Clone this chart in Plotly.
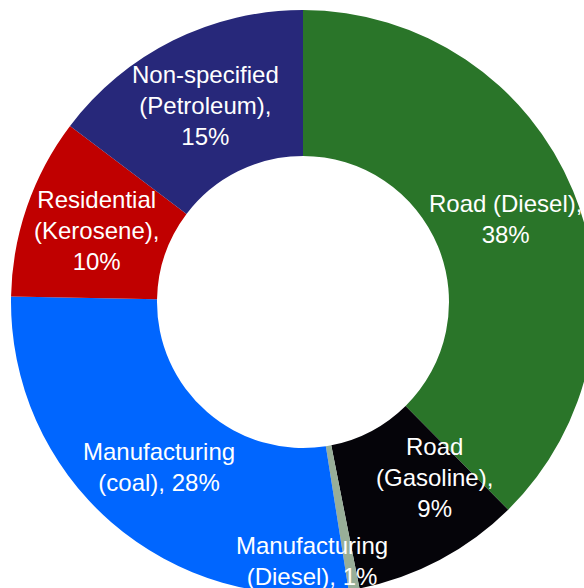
import math
import plotly.graph_objects as go

# shares of final energy use (%)
sectors = ["Road (Diesel)", "Road (Gasoline)", "Manufacturing (Diesel)",
           "Manufacturing (coal)", "Residential (Kerosene)", "Non-specified (Petroleum)"]
shares = [37.6, 9.3, 0.6, 27.8, 10.0, 14.7]
label_lines = ["Road (Diesel),<br>{p}%", "Road<br>(Gasoline),<br>{p}%", "Manufacturing<br>(Diesel), {p}%",
               "Manufacturing<br>(coal), {p}%", "Residential<br>(Kerosene),<br>{p}%",
               "Non-specified<br>(Petroleum),<br>{p}%"]
colors = ["#2a7529", "#050409", "#98ae98", "#0066ff", "#c00000", "#27287a"]
# small manual nudges (px) like the hand-moved labels in the original
nudges = [(0, 0), (29, 18), (-29, -43), (0, 0), (0, 0), (0, 0)]

fig = go.Figure(go.Pie(
    labels=sectors, values=shares, hole=0.5, sort=False, direction="clockwise",
    rotation=0, marker=dict(colors=colors, line=dict(width=0)),
    textinfo="none", hoverinfo="label+percent", showlegend=False,
    domain=dict(x=[0, 1], y=[0, 1]),
))

total = sum(shares)
cum = 0
annots = []
for s, txt, (dx, dy) in zip(shares, label_lines, nudges):
    mid = (cum + s / 2) / total * 2 * math.pi
    cum += s
    r = 0.5 * 0.75
    annots.append(dict(
        x=0.5 + r * math.sin(mid), y=0.5 + r * math.cos(mid), xref="paper", yref="paper",
        xanchor="center", yanchor="middle",
        text=txt.format(p=round(s / total * 100)), showarrow=False,
        xshift=dx, yshift=dy, align="center",
        font=dict(family="Liberation Sans, Arial", size=24, color="white"),
    ))

fig.update_layout(width=606, height=604, margin=dict(l=11, r=11, t=10, b=10),
                  paper_bgcolor="white", plot_bgcolor="white", annotations=annots)

fig.write_html("out.html", config={"displayModeBar": False},
               post_script="document.body.style.margin='0';document.body.style.overflow='hidden';")
